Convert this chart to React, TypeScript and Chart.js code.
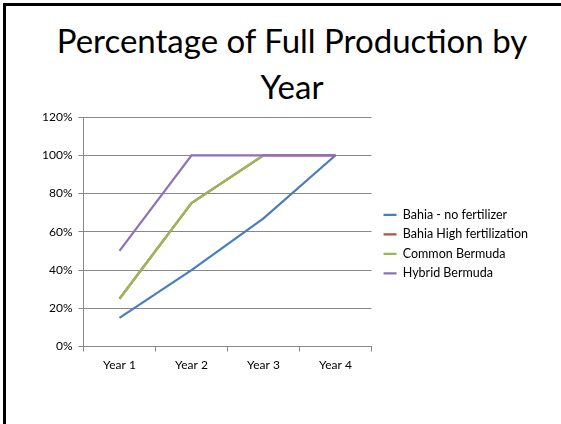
import React, { useEffect, useRef } from "react";
import { Chart, registerables } from "chart.js";

Chart.register(...registerables);

const categories = ["Year 1", "Year 2", "Year 3", "Year 4"];
const bahiaNoFert = [15, 40, 67, 100];
const bahiaHighFert = [25, 75, 100, 100];
const commonBermuda = [25, 75, 100, null];
const hybridBermuda = [50, 100, 100, 100];
const seriesNames = ["Bahia - no fertilizer", "Bahia High fertilization", "Common Bermuda", "Hybrid Bermuda"];
const titleLines = ["Percentage of Full Production by", "Year"];

const FONT = "Lato, 'Open Sans', sans-serif";

export default function App() {
  const ref = useRef<HTMLCanvasElement | null>(null);
  useEffect(() => {
    if (!ref.current) return;
    const mk = (label: string, data: (number | null)[], color: string, order: number) => ({
      label,
      data,
      order,
      borderColor: color,
      backgroundColor: color,
      borderWidth: 2.25,
      pointRadius: 0,
      pointHoverRadius: 0,
      tension: 0,
      spanGaps: false,
    });
    const chart = new Chart(ref.current, {
      type: "line",
      data: {
        labels: categories,
        datasets: [
          mk(seriesNames[0], bahiaNoFert, "#4A7EBB", 3),
          mk(seriesNames[1], bahiaHighFert, "#BE4B48", 2),
          mk(seriesNames[2], commonBermuda, "#98B954", 1),
          mk(seriesNames[3], hybridBermuda, "#8E72B8", 0),
        ],
      },
      options: {
        animation: false,
        responsive: true,
        maintainAspectRatio: false,
        layout: { padding: { left: 30, right: 23, top: 111, bottom: 46 } },
        plugins: {
          title: { display: false },
          legend: {
            position: "right",
            align: "center",
            fullSize: false,
            maxWidth: 240,
            title: { display: true, text: "", font: { family: FONT, size: 12 }, padding: { top: 10, bottom: 0 } },
            labels: {
              usePointStyle: true,
              pointStyle: "line",
              pointStyleWidth: 13,
              boxHeight: 12,
              color: "#000",
              padding: 7,
              font: { family: FONT, size: 12.5 },
              sort: (a: any, b: any) => a.datasetIndex - b.datasetIndex,
            },
          },
          tooltip: { enabled: false },
        },
        scales: {
          x: {
            offset: true,
            grid: {
              display: true,
              offset: true,
              drawOnChartArea: false,
              drawTicks: true,
              tickLength: 5,
              color: "#888",
            },
            border: { display: true, color: "#888", width: 1 },
            ticks: { color: "#000", padding: 6, font: { family: FONT, size: 12 } },
          },
          y: {
            min: 0,
            max: 120,
            ticks: {
              stepSize: 20,
              color: "#000",
              padding: 6,
              font: { family: FONT, size: 12 },
              callback: (v: any) => v + "%",
            },
            grid: { color: "#888", tickLength: 5, drawTicks: true },
            border: { display: true, color: "#888", width: 1 },
          },
          gap: {
            type: "linear",
            position: "right",
            display: true,
            grid: { display: false },
            border: { display: false },
            ticks: { display: false },
            afterFit: (s: any) => {
              s.width = 5;
            },
          },
        },
      },
    });
    return () => chart.destroy();
  }, []);
  return (
    <div style={{ position: "fixed", left: 0, top: 0, width: 561, height: 424, overflow: "hidden", background: "#fff" }}>
      <div style={{ position: "absolute", left: 3, top: 3, right: -10, bottom: -10, borderLeft: "3px solid #000", borderTop: "3px solid #000" }} />
      <div style={{ position: "absolute", left: 0, top: 17, width: 584, textAlign: "center", fontFamily: FONT, fontSize: 33, lineHeight: "46px", color: "#000", whiteSpace: "nowrap" }}>
        {titleLines.map((t) => (
          <div key={t}>{t}</div>
        ))}
      </div>
      <div style={{ position: "absolute", left: 6, top: 6, width: 555, height: 418 }}>
        <canvas ref={ref} />
      </div>
    </div>
  );
}
